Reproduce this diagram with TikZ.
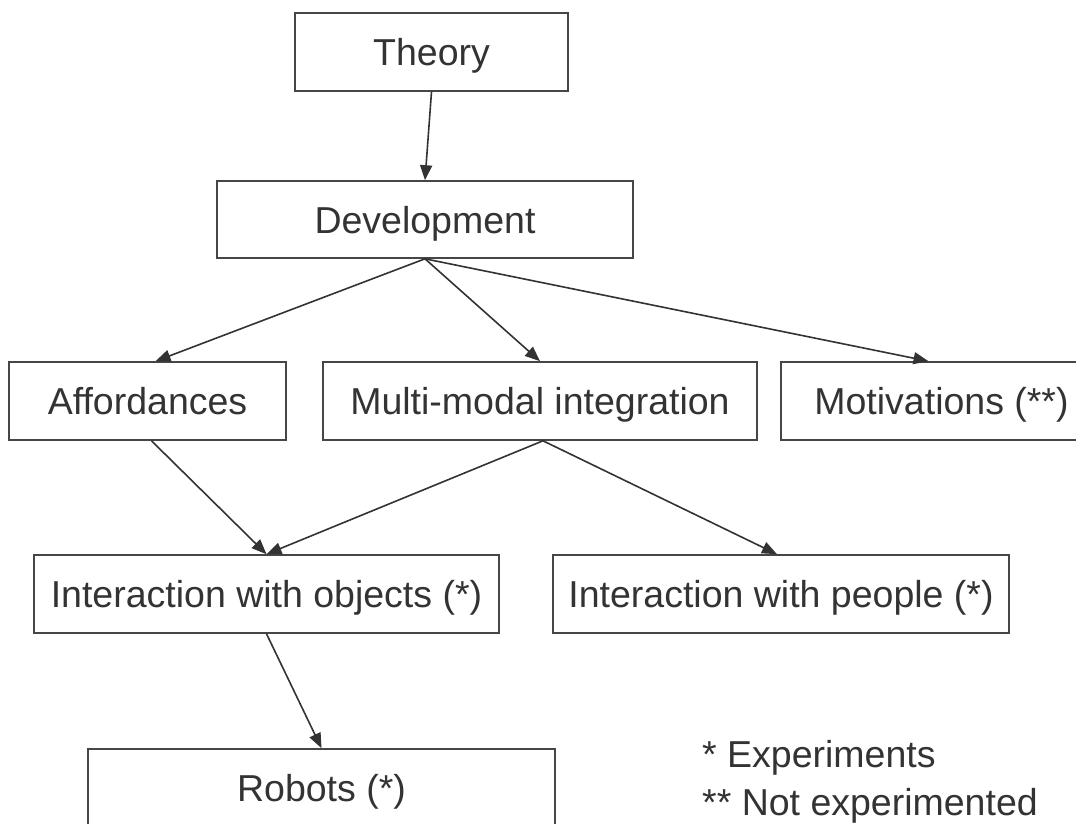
\documentclass[tikz,border=0pt]{standalone}
\usepackage{fontspec}
\setmainfont{Liberation Sans}
\usetikzlibrary{arrows.meta,calc}
\definecolor{ink}{RGB}{51,51,51}
\definecolor{edgegray}{RGB}{70,70,70}
\begin{document}
\begin{tikzpicture}[x=1pt,y=-1pt,
  box/.style={draw=edgegray, line width=1.6pt, text=ink, font=\fontsize{37.5}{44}\selectfont, inner sep=0pt, anchor=center, minimum height=78pt, text height=27pt, text depth=-1pt},
  legendtxt/.style={text=ink, font=\fontsize{37.5}{44}\selectfont, inner sep=0pt, anchor=base west},
  arr/.style={draw=ink, line width=1.6pt, -{Triangle[length=15pt,width=12pt]}}]
\useasboundingbox (0,0) rectangle (1076,823);
\clip (0,0) rectangle (1076,823);
\node[box, minimum width=273pt] (theory) at (431.5,52) {Theory};
\node[box, minimum width=416pt, minimum height=77pt] (dev) at (425,219.5) {Development};
\node[box, minimum width=277pt] (aff) at (147.5,401) {Affordances};
\node[box, minimum width=434pt] (multi) at (540,401) {Multi-modal integration};
\node[box, minimum width=321pt] (motiv) at (941.5,401) {Motivations (**)};
\node[box, minimum width=465pt] (obj) at (266.5,594) {Interaction with objects (*)};
\node[box, minimum width=456pt] (people) at (781,594) {Interaction with people (*)};
\node[box, minimum width=467pt] (robots) at (321.5,788) {Robots (*)};
\node[legendtxt] (leg1) at (702,767) {* Experiments};
\node[legendtxt] (leg2) at (702,815) {** Not experimented};
\draw[arr] (theory.south) -- (dev.north);
\draw[arr] (dev.south) -- ($(aff.north)+(8,0)$);
\draw[arr] (dev.south) -- (multi.north);
\draw[arr] (dev.south) -- ($(motiv.north)+(-13,0)$);
\draw[arr] ($(aff.south)+(4,0)$) -- (obj.north);
\draw[arr] ($(multi.south)+(3,0)$) -- (obj.north);
\draw[arr] ($(multi.south)+(3,0)$) -- ($(people.north)+(-4,0)$);
\draw[arr] (obj.south) -- (robots.north);
\end{tikzpicture}
\end{document}
